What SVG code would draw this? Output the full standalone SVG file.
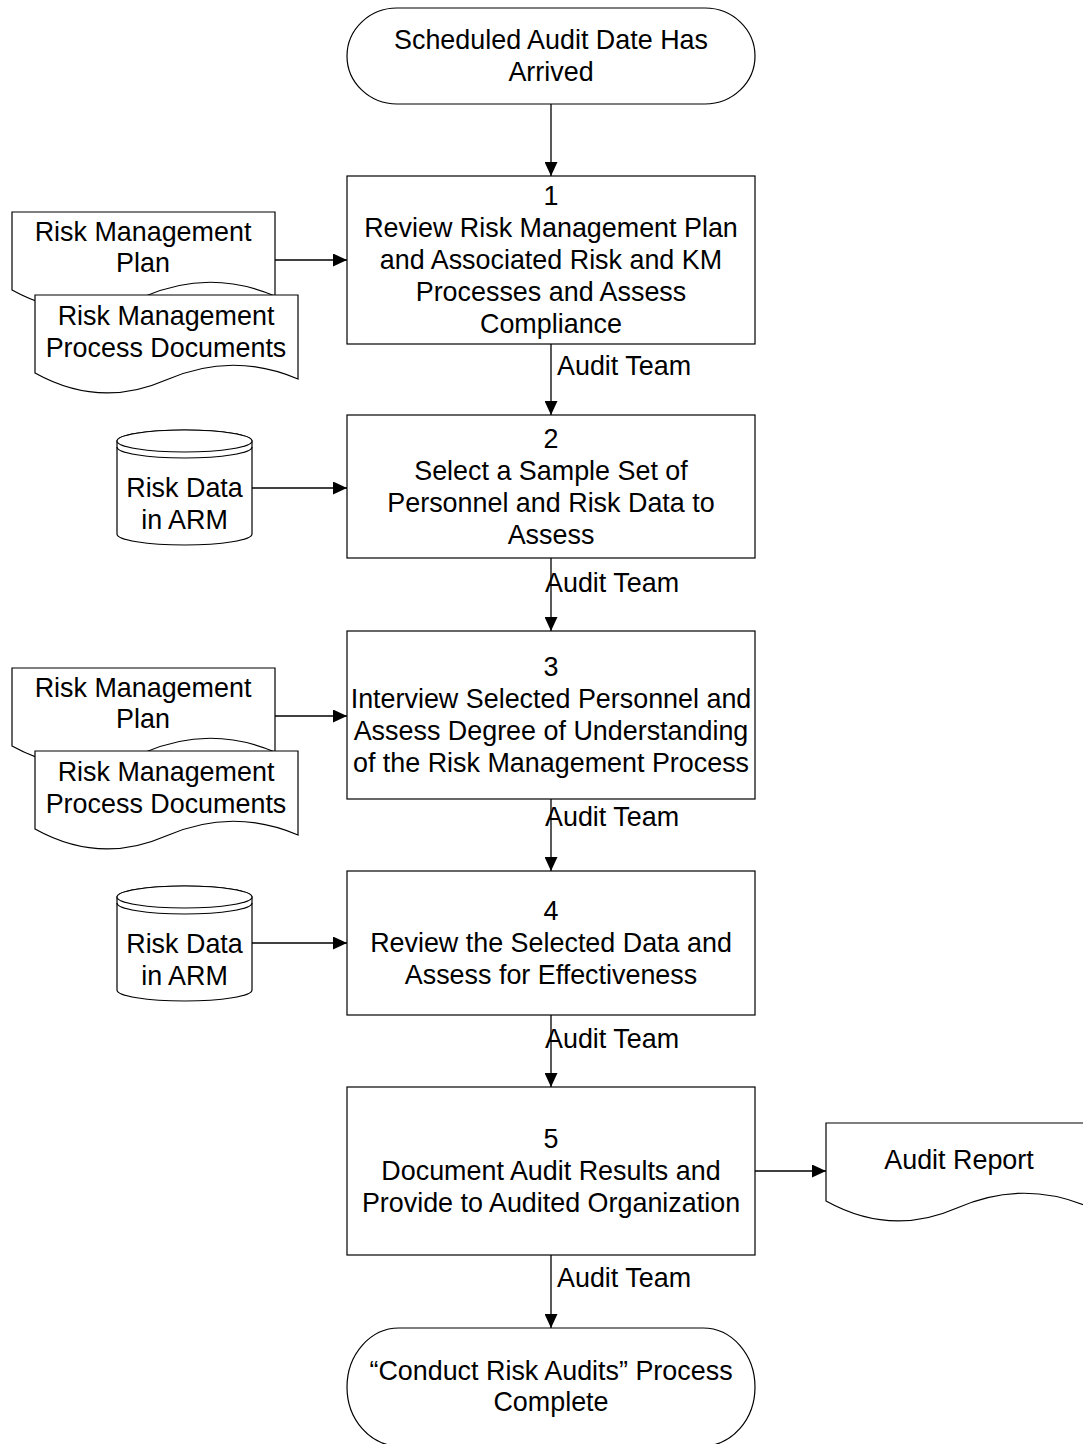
<svg xmlns="http://www.w3.org/2000/svg" width="1083" height="1444" viewBox="0 0 1083 1444">
<defs>
<style>
.s{fill:#fff;stroke:#000;stroke-width:1.2}
.t{font-family:"Liberation Sans",Arial,sans-serif;font-size:26.9px;fill:#000;text-anchor:middle}
.l{font-family:"Liberation Sans",Arial,sans-serif;font-size:26.9px;fill:#000}
.c{fill:none;stroke:#000;stroke-width:1.3}
</style>
<marker id="ah" viewBox="0 0 14 13" refX="14" refY="6.5" markerWidth="14" markerHeight="13" markerUnits="userSpaceOnUse" orient="auto">
<path d="M0,0 L14,6.5 L0,13 Z" fill="#000"/>
</marker>
<path id="doc" d="M0,0 H263 V84 Q197,56 131,85 Q65,114 0,78 Z"/>
</defs>
<rect width="1083" height="1444" fill="#fff"/>

<g id="connectors">
<line class="c" x1="551" y1="104" x2="551" y2="176" marker-end="url(#ah)"/>
<line class="c" x1="551" y1="344" x2="551" y2="415" marker-end="url(#ah)"/>
<line class="c" x1="551" y1="558" x2="551" y2="631" marker-end="url(#ah)"/>
<line class="c" x1="551" y1="799" x2="551" y2="871" marker-end="url(#ah)"/>
<line class="c" x1="551" y1="1015" x2="551" y2="1087" marker-end="url(#ah)"/>
<line class="c" x1="551" y1="1255" x2="551" y2="1328" marker-end="url(#ah)"/>
<line class="c" x1="275" y1="260" x2="347" y2="260" marker-end="url(#ah)"/>
<line class="c" x1="252" y1="488" x2="347" y2="488" marker-end="url(#ah)"/>
<line class="c" x1="275" y1="716" x2="347" y2="716" marker-end="url(#ah)"/>
<line class="c" x1="252" y1="943" x2="347" y2="943" marker-end="url(#ah)"/>
<line class="c" x1="755" y1="1171" x2="826" y2="1171" marker-end="url(#ah)"/>
<text class="l" x="557" y="375">Audit Team</text>
<text class="l" x="545" y="592">Audit Team</text>
<text class="l" x="545" y="826">Audit Team</text>
<text class="l" x="545" y="1048">Audit Team</text>
<text class="l" x="557" y="1287">Audit Team</text>
</g>

<g id="start">
<rect class="s" x="347" y="8" width="408" height="96" rx="50" ry="48"/>
<text class="t" x="551" y="49">Scheduled Audit Date Has</text>
<text class="t" x="551" y="81">Arrived</text>
</g>

<g id="step1">
<rect class="s" x="347" y="176" width="408" height="168"/>
<text class="t" x="551" y="205">1</text>
<text class="t" x="551" y="237">Review Risk Management Plan</text>
<text class="t" x="551" y="269">and Associated Risk and KM</text>
<text class="t" x="551" y="301">Processes and Assess</text>
<text class="t" x="551" y="333">Compliance</text>
</g>

<g id="doc-rmp-1">
<use href="#doc" class="s" transform="translate(12,212)"/>
<text class="t" x="143" y="241">Risk Management</text>
<text class="t" x="143" y="272">Plan</text>
</g>
<g id="doc-rmpd-1">
<use href="#doc" class="s" transform="translate(35,295)"/>
<text class="t" x="166" y="325">Risk Management</text>
<text class="t" x="166" y="357">Process Documents</text>
</g>

<g id="step2">
<rect class="s" x="347" y="415" width="408" height="143"/>
<text class="t" x="551" y="448">2</text>
<text class="t" x="551" y="480">Select a Sample Set of</text>
<text class="t" x="551" y="512">Personnel and Risk Data to</text>
<text class="t" x="551" y="544">Assess</text>
</g>

<g id="db-1" transform="translate(117,430)">
<path class="s" d="M0,11 V104 A67.5,11 0 0 0 135,104 V11 A67.5,11 0 0 0 0,11 Z"/>
<ellipse class="s" cx="67.5" cy="11" rx="67.5" ry="11"/>
<path class="s" d="M0,17 A67.5,11 0 0 0 135,17" style="fill:none"/>
<text class="t" x="67.5" y="67">Risk Data</text>
<text class="t" x="67.5" y="99">in ARM</text>
</g>

<g id="step3">
<rect class="s" x="347" y="631" width="408" height="168"/>
<text class="t" x="551" y="676">3</text>
<text class="t" x="551" y="708">Interview Selected Personnel and</text>
<text class="t" x="551" y="740">Assess Degree of Understanding</text>
<text class="t" x="551" y="772">of the Risk Management Process</text>
</g>

<g id="doc-rmp-2">
<use href="#doc" class="s" transform="translate(12,668)"/>
<text class="t" x="143" y="697">Risk Management</text>
<text class="t" x="143" y="728">Plan</text>
</g>
<g id="doc-rmpd-2">
<use href="#doc" class="s" transform="translate(35,751)"/>
<text class="t" x="166" y="781">Risk Management</text>
<text class="t" x="166" y="813">Process Documents</text>
</g>

<g id="step4">
<rect class="s" x="347" y="871" width="408" height="144"/>
<text class="t" x="551" y="920">4</text>
<text class="t" x="551" y="952">Review the Selected Data and</text>
<text class="t" x="551" y="984">Assess for Effectiveness</text>
</g>

<g id="db-2" transform="translate(117,886)">
<path class="s" d="M0,11 V104 A67.5,11 0 0 0 135,104 V11 A67.5,11 0 0 0 0,11 Z"/>
<ellipse class="s" cx="67.5" cy="11" rx="67.5" ry="11"/>
<path class="s" d="M0,17 A67.5,11 0 0 0 135,17" style="fill:none"/>
<text class="t" x="67.5" y="67">Risk Data</text>
<text class="t" x="67.5" y="99">in ARM</text>
</g>

<g id="step5">
<rect class="s" x="347" y="1087" width="408" height="168"/>
<text class="t" x="551" y="1148">5</text>
<text class="t" x="551" y="1180">Document Audit Results and</text>
<text class="t" x="551" y="1212">Provide to Audited Organization</text>
</g>

<g id="doc-audit-report">
<use href="#doc" class="s" transform="translate(826,1123)"/>
<text class="t" x="959" y="1169">Audit Report</text>
</g>

<g id="end">
<rect class="s" x="347" y="1328" width="408" height="118" rx="52" ry="59"/>
<text class="t" x="551" y="1380">“Conduct Risk Audits” Process</text>
<text class="t" x="551" y="1411">Complete</text>
</g>
</svg>
